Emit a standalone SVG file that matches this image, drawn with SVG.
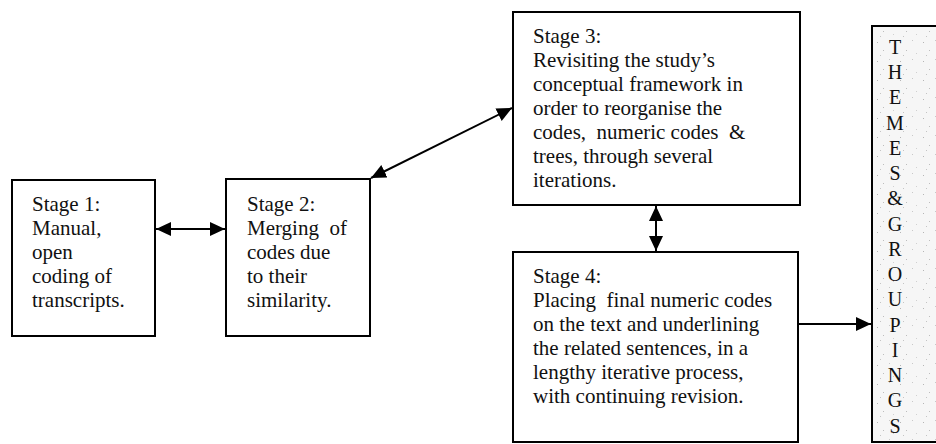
<svg xmlns="http://www.w3.org/2000/svg" width="936" height="444" viewBox="0 0 936 444">
  <style>
    .box { fill: #ffffff; stroke: #000000; stroke-width: 2; }
    .themes { stroke: #000000; stroke-width: 2; }
    .txt { font-family: "Liberation Serif", "Times New Roman", serif; font-size: 21px; fill: #111111; white-space: pre; }
    .letter { font-family: "Liberation Serif", "Times New Roman", serif; font-size: 20px; fill: #111111; text-anchor: middle; }
    .conn { stroke: #000000; stroke-width: 2; fill: none; marker-start: url(#head); marker-end: url(#head); }
    .one { stroke: #000000; stroke-width: 2; fill: none; marker-end: url(#head); }
  </style>
  <defs>
    <marker id="head" viewBox="0 0 15 14" refX="15" refY="7" markerWidth="15" markerHeight="14" markerUnits="userSpaceOnUse" orient="auto-start-reverse">
      <path d="M0,0 L15,7 L0,14 Z" fill="#000000"/>
    </marker>
    <!-- sparse grey speckle for the shaded column -->
    <pattern id="speckle" width="23" height="19" patternUnits="userSpaceOnUse">
      <rect width="23" height="19" fill="#f6f6f6"/>
      <rect x="3" y="4" width="1" height="1" fill="#b5b5b5"/>
      <rect x="15" y="2" width="1" height="1" fill="#c8c8c8"/>
      <rect x="9" y="12" width="1" height="1" fill="#bdbdbd"/>
      <rect x="19" y="15" width="1" height="1" fill="#d0d0d0"/>
      <rect x="6" y="17" width="1" height="1" fill="#c4c4c4"/>
    </pattern>
  </defs>

  <g id="stage1">
    <rect class="box" x="12" y="180" width="143" height="156"/>
    <text class="txt" x="32" y="211">Stage 1:</text>
    <text class="txt" x="32" y="235">Manual,</text>
    <text class="txt" x="32" y="259">open</text>
    <text class="txt" x="32" y="283">coding of</text>
    <text class="txt" x="32" y="307">transcripts.</text>
  </g>

  <g id="stage2">
    <rect class="box" x="226" y="179" width="144" height="157"/>
    <text class="txt" x="247" y="211">Stage 2:</text>
    <text class="txt" x="247" y="235">Merging  of</text>
    <text class="txt" x="247" y="259">codes due</text>
    <text class="txt" x="247" y="283">to their</text>
    <text class="txt" x="247" y="307">similarity.</text>
  </g>

  <g id="stage3">
    <rect class="box" x="513" y="12" width="287" height="193"/>
    <text class="txt" x="533" y="43">Stage 3:</text>
    <text class="txt" x="533" y="67">Revisiting the study’s</text>
    <text class="txt" x="533" y="91">conceptual framework in</text>
    <text class="txt" x="533" y="115">order to reorganise the</text>
    <text class="txt" x="533" y="139">codes,  numeric codes  &amp;</text>
    <text class="txt" x="533" y="163">trees, through several</text>
    <text class="txt" x="533" y="187">iterations.</text>
  </g>

  <g id="stage4">
    <rect class="box" x="513" y="252" width="285" height="190"/>
    <text class="txt" x="533" y="283">Stage 4:</text>
    <text class="txt" x="533" y="307">Placing  final numeric codes</text>
    <text class="txt" x="533" y="331">on the text and underlining</text>
    <text class="txt" x="533" y="355">the related sentences, in a</text>
    <text class="txt" x="533" y="379">lengthy iterative process,</text>
    <text class="txt" x="533" y="403">with continuing revision.</text>
  </g>

  <g id="themes">
    <rect class="themes" x="872" y="26" width="70" height="416" fill="url(#speckle)"/>
    <text class="letter" x="895" y="54">T</text>
    <text class="letter" x="895" y="79">H</text>
    <text class="letter" x="895" y="104">E</text>
    <text class="letter" x="895" y="130">M</text>
    <text class="letter" x="895" y="155">E</text>
    <text class="letter" x="895" y="180">S</text>
    <text class="letter" x="895" y="205">&amp;</text>
    <text class="letter" x="895" y="231">G</text>
    <text class="letter" x="895" y="256">R</text>
    <text class="letter" x="895" y="281">O</text>
    <text class="letter" x="895" y="306">U</text>
    <text class="letter" x="895" y="332">P</text>
    <text class="letter" x="895" y="357">I</text>
    <text class="letter" x="895" y="382">N</text>
    <text class="letter" x="895" y="407">G</text>
    <text class="letter" x="895" y="433">S</text>
  </g>

  <g id="connectors">
    <line class="conn" x1="156" y1="229" x2="225" y2="229"/>
    <line class="conn" x1="371" y1="178" x2="512" y2="108"/>
    <line class="conn" x1="656" y1="206" x2="656" y2="251"/>
    <line class="one" x1="799" y1="324" x2="871" y2="324"/>
  </g>
</svg>
